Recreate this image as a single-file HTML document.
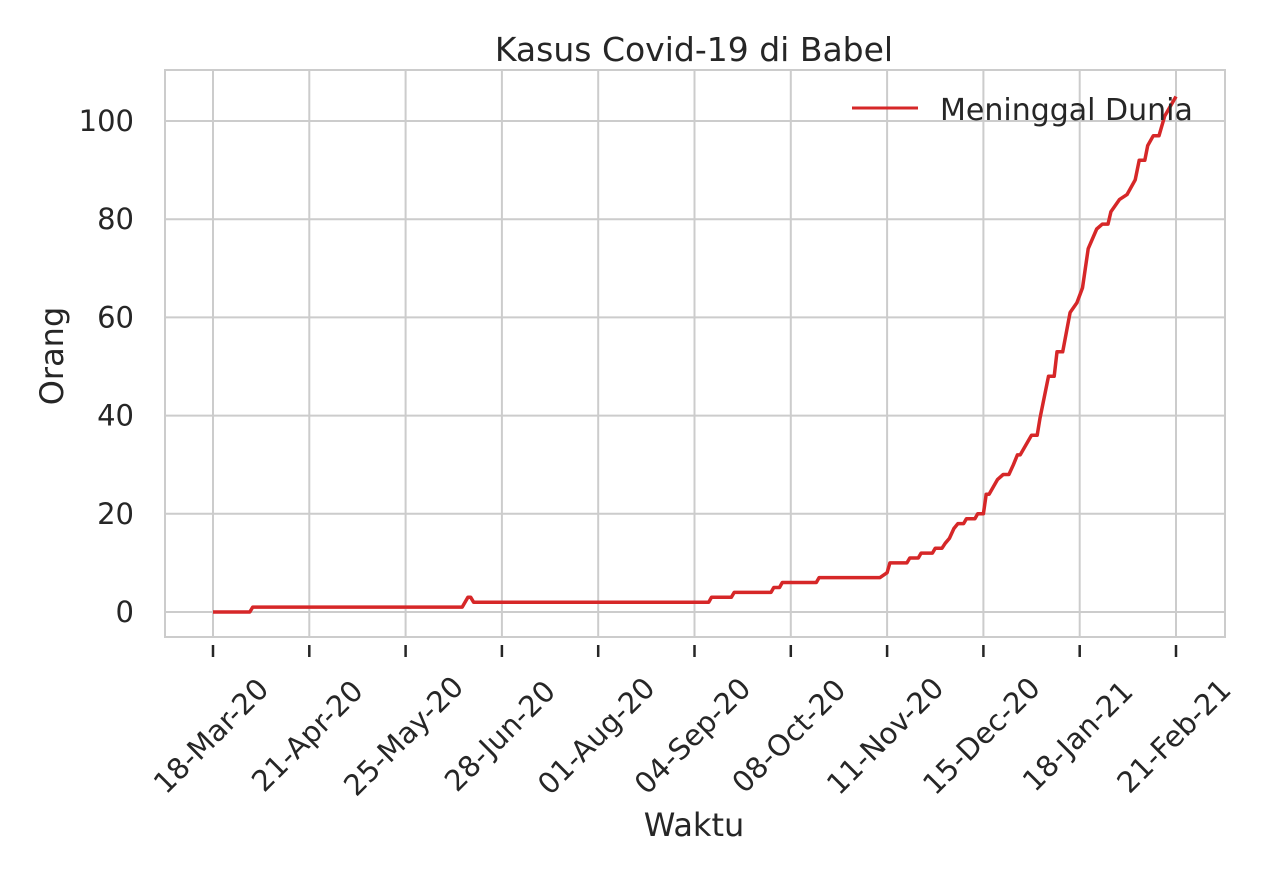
<!DOCTYPE html>
<html><head><meta charset="utf-8"><style>
body{margin:0;background:#fff;}
svg{display:block;font-family:"DejaVu Sans","Liberation Sans",sans-serif;fill:#262626;}
</style></head><body>
<svg id="chart" width="1280" height="880">
<text x="694" y="61" font-size="33" text-anchor="middle">Kasus Covid-19 di Babel</text>
<g id="grid"></g>
<rect x="165" y="70" width="1060" height="567" fill="none" stroke="#cccccc" stroke-width="2"/>
<g id="series"></g>
<g id="ticks"></g>
<text x="694" y="836" font-size="32" text-anchor="middle">Waktu</text>
<text transform="translate(63,356) rotate(-90)" font-size="32" text-anchor="middle">Orang</text>
<g>
<line x1="852" y1="108" x2="918" y2="108" stroke="#d62728" stroke-width="3"/>
<text x="940" y="120" font-size="30">Meninggal Dunia</text>
</g>
</svg>
<script>
const xTickLabels=["18-Mar-20","21-Apr-20","25-May-20","28-Jun-20","01-Aug-20","04-Sep-20","08-Oct-20","11-Nov-20","15-Dec-20","18-Jan-21","21-Feb-21"];
const yTicks=[0,20,40,60,80,100];
const days=[0,13,14,88,90,91,92,175,176,183,184,197,198,200,201,213,214,235.5,238,239,245,246,249,250,254,255,257.4,258.5,260,261.6,263,265,266,269,270,272,273,274,277,279,281,282.6,284,285,289,291,292,295,297,298,300,302.6,305,307,309,312,314,316,317,320,322.7,325.6,327,329,330,332,334,336,340];
const deaths=[0,0,1,1,3,3,2,2,3,3,4,4,5,5,6,6,7,7,8,10,10,11,11,12,12,13,13,14,15,17,18,18,19,19,20,20,24,24,27,28,28,30,32,32,36,36,39.5,48,48,53,53,61,63,66,74,78,79,79,81.5,84,85,88,92,92,95,97,97,101,105];
const x=d=>213+d*(1176-213)/340;
const y=v=>612-v*(612-121)/100;
const NS="http://www.w3.org/2000/svg";
const grid=document.getElementById('grid'),ticks=document.getElementById('ticks'),series=document.getElementById('series');
function mk(tag,attrs,parent){const e=document.createElementNS(NS,tag);for(const k in attrs)e.setAttribute(k,attrs[k]);parent.appendChild(e);return e;}
xTickLabels.forEach((lab,i)=>{
  const d=i*34, px=x(d);
  const g=mk('line',{x1:px,x2:px,y1:70,y2:637,stroke:'#cccccc','stroke-width':2},grid);
  
  
  const t=mk('line',{x1:px,x2:px,y1:645,y2:657,stroke:'#262626','stroke-width':2.5},ticks);
  
  
  const tx=mk('text',{'font-size':29,'text-anchor':'middle',transform:`translate(${px-2},${736}) rotate(-45)`,y:10},ticks);
  tx.textContent=lab;
  
  
});
yTicks.forEach(v=>{
  const py=y(v);
  const g=mk('line',{x1:165,x2:1225,y1:py,y2:py,stroke:'#cccccc','stroke-width':2},grid);
  
  
  const tx=mk('text',{x:134,y:py+10,'font-size':29,'text-anchor':'end'},ticks);
  tx.textContent=v;
  
  
});
const pts=days.map((d,i)=>x(d).toFixed(1)+','+y(deaths[i]).toFixed(1)).join(' ');
const pl=mk('polyline',{points:pts,fill:'none',stroke:'#d62728','stroke-width':3.5,'stroke-linejoin':'round'},series);


</script>
</body></html>
